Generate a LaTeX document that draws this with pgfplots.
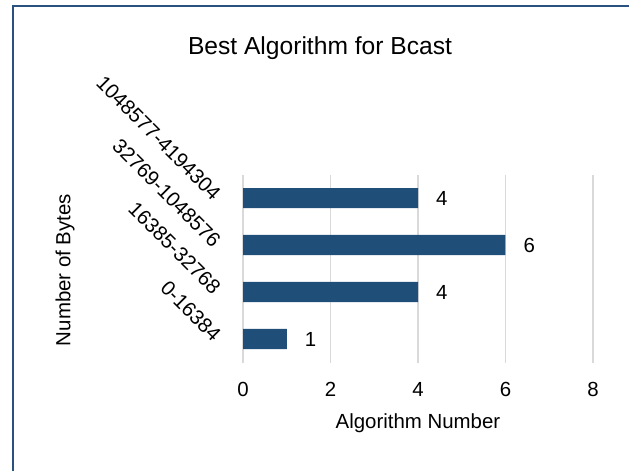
\documentclass[border=0pt]{standalone}
\usepackage{pgfplots}
\pgfplotsset{compat=1.18}
\usepackage{fontspec}
\setmainfont{Liberation Sans}
\definecolor{barblue}{RGB}{31,78,121}
\definecolor{frameblue}{RGB}{41,82,128}
\definecolor{gridgray}{RGB}{217,217,217}
\begin{document}
\begin{tikzpicture}
\path[use as bounding box] (0bp,0bp) rectangle (629bp,471bp);
\draw[frameblue, line width=2.5bp] (13bp,0bp) -- (13bp,465bp) -- (629bp,465bp);
\node[font=\fontsize{24.7}{28}\selectfont] at (320bp,423bp) {Best Algorithm for Bcast};
\begin{axis}[
  at={(243bp,108.5bp)}, anchor=south west,
  scale only axis, width=350bp, height=188bp,
  xbar, bar width=20bp,
  xmin=0, xmax=8, ymin=-0.5, ymax=3.5,
  xtick={0,2,4,6,8},
  ytick={0,1,2,3},
  yticklabels={0-16384,16385-32768,32769-1048576,1048577-4194304},
  axis line style={draw=none},
  major tick length=0pt,
  xmajorgrids, ymajorgrids=false,
  grid style={gridgray, line width=1.5bp},
  /pgf/number format/assume math mode=true,
  tick label style={font=\fontsize{20.5}{24}\selectfont},
  xticklabel style={anchor=north, inner sep=0pt},
  xticklabel shift=20bp,
  yticklabel style={rotate=-45, anchor=east, inner sep=0pt, yshift=2bp},
  yticklabel shift=27bp,
  xlabel={Algorithm Number},
  ylabel={Number of Bytes},
  label style={font=\fontsize{20.5}{24}\selectfont},
  xlabel style={at={(axis description cs:0.5,-0.3218)}, anchor=center},
  ylabel style={at={(axis description cs:-0.5086,0.492)}, anchor=center},
  nodes near coords,
  nodes near coords style={anchor=west, inner sep=0pt, xshift=18bp, font=\fontsize{20.5}{24}\selectfont, text=black},
]
\addplot[fill=barblue, draw=none] coordinates {(1,0) (4,1) (6,2) (4,3)};
\end{axis}
\end{tikzpicture}
\end{document}
